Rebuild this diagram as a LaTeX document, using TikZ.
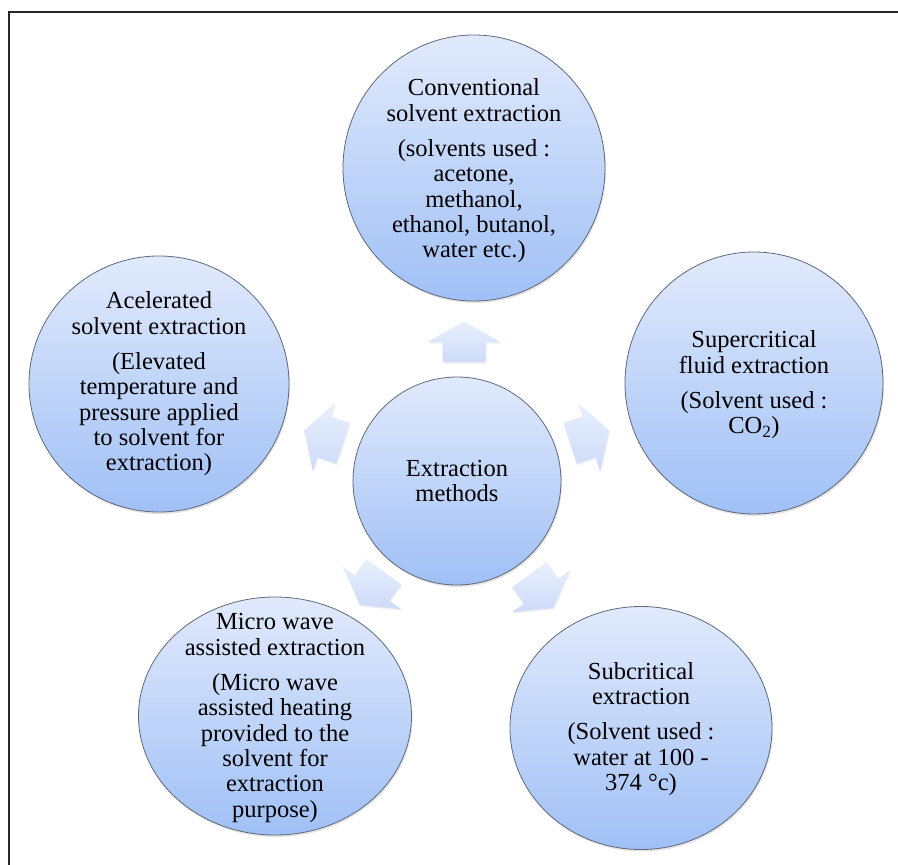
\documentclass[tikz,border=0pt]{standalone}
\usepackage{fontspec}
\setmainfont{Liberation Serif}
\usetikzlibrary{shapes.geometric,shadows}
\definecolor{ctop}{RGB}{225,234,252}
\definecolor{cbot}{RGB}{160,192,246}
\definecolor{atop}{RGB}{233,240,253}
\definecolor{abot}{RGB}{205,219,249}
\definecolor{cedge}{RGB}{95,105,120}
\begin{document}
\begin{tikzpicture}[x=1pt,y=1pt,
  bubble/.style={ellipse, draw=cedge, line width=0.8pt, top color=ctop, bottom color=cbot,
    inner sep=0pt, drop shadow={opacity=0.22, shadow xshift=1pt, shadow yshift=-2pt}},
  txt/.style={align=center, inner sep=0pt, font=\fontsize{24.5}{25.3}\selectfont},
  arrowfill/.style={top color=atop, bottom color=abot, draw=none,
    drop shadow={opacity=0.12, shadow xshift=1pt, shadow yshift=-1.5pt}},
  frame/.style={line width=1.6pt, draw=black!85},
  blockarrow/.pic={\path[arrowfill] (0,21) -- (36,0) -- (21.5,0) -- (21.5,-20)
    -- (-21.5,-20) -- (-21.5,0) -- (-36,0) -- cycle;}
]
\useasboundingbox (0,0) rectangle (898,-865);
\draw[frame] (9,-865) -- (9,-12) -- (898,-12);

% circles
\node[bubble, minimum width=208, minimum height=208] (ctr) at (457,-481) {};
\node[bubble, minimum width=262, minimum height=266] (conv) at (474,-168) {};
\node[bubble, minimum width=258, minimum height=262] (super) at (754,-383) {};
\node[bubble, minimum width=262, minimum height=243] (sub) at (641,-728) {};
\node[bubble, minimum width=273, minimum height=238] (micro) at (275,-716) {};
\node[bubble, minimum width=260, minimum height=256] (acc) at (159,-384) {};

% texts
\node[txt] (tctr) at (457,-481) {Extraction\\methods};
\node[txt] (tconv) at (474,-171) {Conventional\\solvent extraction\\[10pt](solvents used :\\acetone,\\methanol,\\ethanol, butanol,\\water etc.)};
\node[txt] (tsuper) at (754,-385) {Supercritical\\fluid extraction\\[10pt](Solvent used :\\CO\textsubscript{2})};
\node[txt] (tsub) at (641,-729) {Subcritical\\extraction\\[10pt](Solvent used :\\water at 100 -\\374 °c)};
\node[txt] (tmicro) at (275,-718) {Micro wave\\assisted extraction\\[10pt](Micro wave\\assisted heating\\provided to the\\solvent for\\extraction\\purpose)};
\node[txt] (tacc) at (159,-384) {Acelerated\\solvent extraction\\[10pt](Elevated\\temperature and\\pressure applied\\to solvent for\\extraction)};

% block arrows
\pic[rotate=0] at (464,-342) {blockarrow};
\pic[rotate=-72] at (589,-437) {blockarrow};
\pic[rotate=-144] at (541,-591) {blockarrow};
\pic[rotate=144] at (372,-588) {blockarrow};
\pic[rotate=72] at (324,-437) {blockarrow};
\end{tikzpicture}
\end{document}
